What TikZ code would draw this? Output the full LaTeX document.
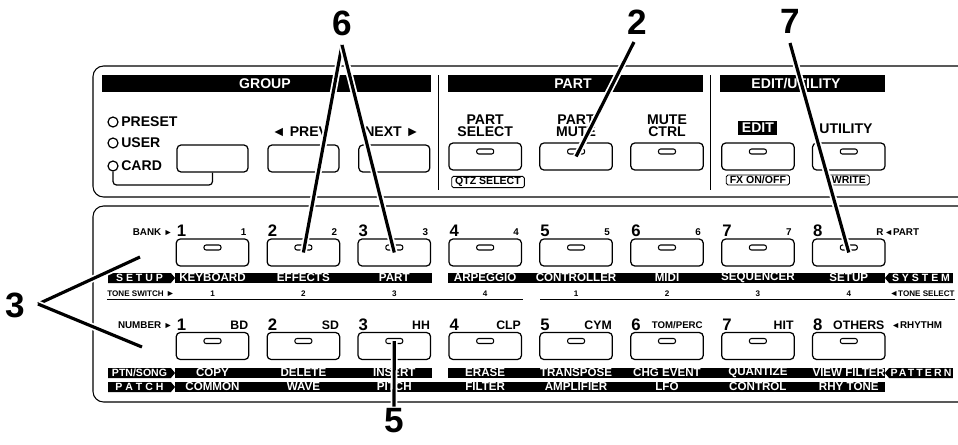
\documentclass[tikz,border=0pt]{standalone}
\usepackage{fontspec}
\setmainfont{Liberation Sans}
\usetikzlibrary{shapes.symbols}

\newcommand{\rtri}{{\fontsize{5}{5}\selectfont\char"25BA}}
\newcommand{\ltri}{{\fontsize{5}{5}\selectfont\char"25C4}}
\newcommand{\tomperc}{{\fontsize{5.5}{5.5}\selectfont TOM/PERC}}

\tikzset{
  panel/.style={line width=0.6pt, rounded corners=6pt},
  divider/.style={line width=0.5pt},
  keybtn/.style={draw, line width=0.7pt, rounded corners=2.3pt, minimum width=1.45cm, minimum height=0.54cm, inner sep=0pt},
  ledlamp/.style={draw, line width=0.6pt, rounded corners=1.2pt, minimum width=0.34cm, minimum height=0.1cm, inner sep=0pt},
  grouplamp/.style={draw, circle, line width=0.7pt, minimum size=0.2cm, inner sep=0pt},
  headlabel/.style={text=white, font=\bfseries\fontsize{8}{8}\selectfont, inner sep=0pt},
  toplabel/.style={font=\bfseries\fontsize{8}{7}\selectfont, align=center, inner sep=0pt},
  boxlabel/.style={draw, line width=0.5pt, rounded corners=1pt, font=\bfseries\fontsize{6}{6}\selectfont, minimum height=0.2cm, inner xsep=2pt, inner ysep=0.5pt},
  fnlabel/.style={text=white, font=\bfseries\fontsize{6.6}{6.6}\selectfont, inner sep=0pt},
  modetag/.style={signal, fill=black, text=white, font=\bfseries\fontsize{6}{6}\selectfont, minimum height=0.2cm, inner sep=0pt, signal pointer angle=100},
  bignum/.style={font=\bfseries\fontsize{9.5}{9.5}\selectfont, inner sep=0pt},
  smallnum/.style={font=\bfseries\fontsize{5.6}{5.6}\selectfont, inner sep=0pt},
  drumlabel/.style={font=\bfseries\fontsize{7}{7}\selectfont, inner sep=0pt, anchor=east},
  tinylabel/.style={font=\bfseries\fontsize{4.6}{4.6}\selectfont, inner sep=0pt},
  callout/.style={font=\bfseries\fontsize{20}{20}\selectfont, inner sep=1pt},
  pointer/.style={line width=1.8pt, preaction={draw=white, line width=3.8pt}},
}

\begin{document}
\begin{tikzpicture}[x=0.02cm, y=-0.02cm]
\useasboundingbox (0,0) rectangle (958,444);

% upper panel
\draw[panel] (958,66) -- (93,66) -- (93,197) -- (958,197);
\draw[divider] (438,75) -- (438,190);
\draw[divider] (710,75) -- (710,190);
\fill (102,75) rectangle (431,92);
\fill (448,75) rectangle (703,92);
\fill (720,75) rectangle (885,92);
\node[headlabel] (hgroup) at (265,83.5) {GROUP};
\node[headlabel] (hpart) at (573,83.5) {PART};
\node[headlabel] (hedit) at (796,83.5) {EDIT/UTILITY};

\node[grouplamp] (lpreset) at (113,122) {};
\node[grouplamp] (luser) at (113,143) {};
\node[grouplamp] (lcard) at (113,166) {};
\node[toplabel, anchor=west] (tpreset) at (121,122) {PRESET};
\node[toplabel, anchor=west] (tuser) at (121,143) {USER};
\node[toplabel, anchor=west] (tcard) at (121,166) {CARD};
\node[keybtn, minimum width=1.42cm] (gcard) at (212.5,158.5) {};
\node[keybtn, minimum width=1.42cm] (gprev) at (303.4,158.5) {};
\node[keybtn, minimum width=1.42cm] (gnext) at (394.3,158.5) {};
\draw[line width=0.7pt, rounded corners=2pt] (lcard.south) -- (113,185) -| (gcard.south);
\node[toplabel] (tprev) at (300,132) {\char"25C4\ PREV};
\node[toplabel] (tnext) at (392,132) {NEXT \char"25BA};

\node[toplabel] (tpsel) at (485.2,126) {PART\\SELECT};
\node[toplabel] (tpmute) at (576.1,126) {PART\\MUTE};
\node[toplabel] (tpctrl) at (667,126) {MUTE\\CTRL};
\node[fill=black, text=white, font=\bfseries\fontsize{8}{8}\selectfont, inner xsep=2pt, inner ysep=1.5pt] (tedit) at (757.9,128) {EDIT};
\node[toplabel] (tutil) at (846,128.5) {UTILITY};
\foreach \nm/\px in {psel/485.2, pmute/576.1, pctrl/667, edit/757.9, util/848.8}{
  \node[keybtn] (\nm) at (\px,156.5) {};
  \node[ledlamp] (\nm l) at (\px,151.5) {};
}
\node[boxlabel] (qtz) at (488,182) {QTZ SELECT};
\node[boxlabel] (fxon) at (757.9,180) {FX ON/OFF};
\node[boxlabel] (write) at (848.8,180) {WRITE};

% lower panel
\draw[panel] (958,206) -- (93,206) -- (93,402) -- (958,402);
\fill (175,273) rectangle (432,283);
\fill (448,273) rectangle (885,283);
\fill (175,368) rectangle (432,378);
\fill (448,368) rectangle (885,378);
\fill (175,382) rectangle (885,392);
\draw[divider] (107,299) -- (523,299);
\draw[divider] (540,299) -- (955,299);

\node[modetag, signal to=east, minimum width=1.34cm] (tsetup) at (139.5,278) {S E T U P};
\node[modetag, signal to=east, minimum width=1.34cm] (tptn) at (139.5,373) {PTN/SONG};
\node[modetag, signal to=east, minimum width=1.34cm] (tpatch) at (139.5,387) {P A T C H};
\node[modetag, signal to=west, minimum width=1.36cm] (tsystem) at (921,278) {S Y S T E M};
\node[modetag, signal to=west, minimum width=1.36cm] (tpattern) at (921,373) {\addfontfeature{LetterSpace=20}PATTERN};

\node[smallnum, anchor=east] (lbank) at (173,232) {BANK \rtri};
\node[smallnum, anchor=east] (lnumber) at (173,325.5) {NUMBER \rtri};
\node[tinylabel, anchor=west] (ltone) at (107,294) {TONE SWITCH \rtri};
\node[tinylabel, anchor=east] (ltsel) at (955,294) {\ltri TONE SELECT};
\node[smallnum, anchor=west] (lpart) at (884,232) {\ltri PART};
\node[smallnum, anchor=west] (lrhythm) at (891,325.5) {\ltri RHYTHM};

\foreach \i/\sk/\pk/\ak/\dk/\tk/\bk in {
  1/KEYBOARD/COPY/COMMON/BD/1/1,
  2/EFFECTS/DELETE/WAVE/SD/2/2,
  3/PART/INSERT/PITCH/HH/3/3,
  4/ARPEGGIO/ERASE/FILTER/CLP/4/4,
  5/CONTROLLER/TRANSPOSE/AMPLIFIER/CYM/1/5,
  6/MIDI/CHG EVENT/LFO/\tomperc/2/6,
  7/SEQUENCER/QUANTIZE/CONTROL/HIT/3/7,
  8/SETUP/VIEW FILTER/RHY TONE/OTHERS/4/R}{
  \pgfmathsetmacro{\cx}{212.5+90.9*(\i-1)}
  \node[keybtn] (b\i) at (\cx,252.5) {};
  \node[ledlamp] (bl\i) at (\cx,247.5) {};
  \node[keybtn] (n\i) at (\cx,346) {};
  \node[ledlamp] (nl\i) at (\cx,341) {};
  \node[bignum] (bn\i) at (\cx-31,231) {\i};
  \node[smallnum] (bs\i) at (\cx+31,232) {\bk};
  \node[bignum] (nn\i) at (\cx-31,325) {\i};
  \node[drumlabel] (nd\i) at (\cx+36,325.5) {\dk};
  \node[fnlabel] (fs\i) at (\cx,278) {\sk};
  \node[fnlabel] (fp\i) at (\cx,373) {\pk};
  \node[fnlabel] (fa\i) at (\cx,387) {\ak};
  \node[tinylabel] (ts\i) at (\cx,294) {\tk};
}

% callouts
\node[callout] (c6) at (342,23) {6};
\node[callout] (c2) at (637,22) {2};
\node[callout] (c7) at (790,21) {7};
\node[callout] (c3) at (15,305) {3};
\node[callout] (c5) at (394,421) {5};
\coordinate (a6) at (342,45);
\coordinate (a2) at (634,42);
\coordinate (a7) at (790,43);
\coordinate (a3) at (38,304);
\coordinate (t3a) at (140,257);
\coordinate (t3b) at (142,347);
\draw[pointer] (a6) -- (b2.center);
\draw[pointer] (a6) -- (b3.center);
\draw[pointer] (a2) -- (pmute.center);
\draw[pointer] (a7) -- (b8.center);
\draw[pointer] (a3) -- (t3a);
\draw[pointer] (a3) -- (t3b);
\draw[pointer] (nl3.center) -- (c5.north);
\end{tikzpicture}
\end{document}
